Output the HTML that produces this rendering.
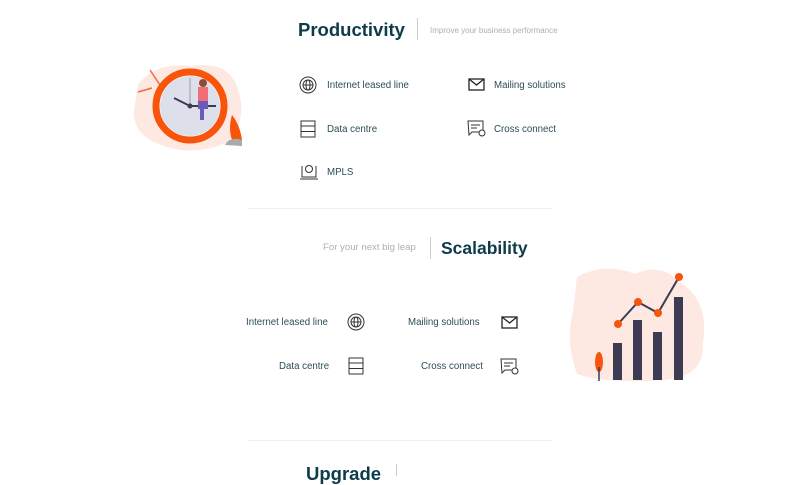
<!DOCTYPE html>
<html><head><style>
body{margin:0;width:800px;height:474px;background:#fff;position:relative;overflow:hidden;font-family:"Liberation Sans",sans-serif;}
.a{position:absolute;white-space:nowrap}
.t{font-weight:bold;font-size:18.5px;color:#0d3b4a}
.s{font-size:8px;color:#a9b0b4}
.i{font-size:9.7px;color:#2c4d58}
.d{position:absolute;width:1px;background:#c9cdd0}
.h{position:absolute;height:1px;background:#eef0f1;left:247px;width:306px}
svg.ic{position:absolute}
</style></head><body>
<div class="a t" style="left:298px;top:19px">Productivity</div>
<div class="d" style="left:417px;top:18px;height:22px"></div>
<div class="a s" style="left:430px;top:26px">Improve your business performance</div>

<svg class="a" style="left:130px;top:60px" width="120" height="95" viewBox="0 0 120 95">
<path d="M8 25 Q25 2 60 6 Q100 0 108 30 Q118 60 98 82 Q70 95 40 88 Q2 78 4 50 Z" fill="#fde9e2"/>
<line x1="20" y1="10" x2="30" y2="25" stroke="#f26b3a" stroke-width="1.5"/>
<line x1="8" y1="32" x2="22" y2="28" stroke="#f26b3a" stroke-width="1.5"/>
<circle cx="60" cy="46" r="34" fill="#fff" stroke="#f9540c" stroke-width="7"/>
<circle cx="60" cy="46" r="30" fill="#dde0ea"/>
<line x1="60" y1="46" x2="44" y2="38" stroke="#3d3b54" stroke-width="2"/>
<line x1="60" y1="46" x2="60" y2="18" stroke="#9a9aa8" stroke-width="1"/>
<line x1="60" y1="46" x2="86" y2="46" stroke="#3d3b54" stroke-width="2"/>
<circle cx="60" cy="46" r="2.5" fill="#3d3b54"/>
<rect x="68" y="27" width="10" height="14" fill="#f36d77"/>
<circle cx="73" cy="23" r="4" fill="#8a4b3a"/>
<rect x="68" y="41" width="10" height="8" fill="#6c5ab8"/>
<rect x="70" y="48" width="4" height="12" fill="#6c5ab8"/>
<path d="M102 55 Q110 65 112 80 L102 80 Q98 68 102 55Z" fill="#f9540c"/>
<path d="M95 85 Q100 76 112 80 L112 86 Z" fill="#aaa"/>
</svg>

<svg class="ic" style="left:299px;top:76px" width="18" height="18" viewBox="0 0 18 18" fill="none" stroke="#333" stroke-width="1"><circle cx="9" cy="9" r="8"/><circle cx="9" cy="9" r="5"/><ellipse cx="9" cy="9" rx="2" ry="5"/><line x1="4" y1="9" x2="14" y2="9"/></svg>
<div class="a i" style="left:327px;top:80px">Internet leased line</div>
<svg class="ic" style="left:468px;top:78px" width="17" height="14" viewBox="0 0 17 14" fill="none" stroke="#222" stroke-width="1.3"><rect x="1" y="1" width="15" height="11"/><path d="M1 1 L8.5 7 L16 1"/></svg>
<div class="a i" style="left:494px;top:80px">Mailing solutions</div>
<svg class="ic" style="left:300px;top:120px" width="16" height="18" viewBox="0 0 16 18" fill="none" stroke="#333" stroke-width="1"><rect x="1" y="1" width="14" height="16"/><line x1="1" y1="6" x2="15" y2="6"/><line x1="1" y1="11.5" x2="15" y2="11.5"/></svg>
<div class="a i" style="left:327px;top:124px">Data centre</div>
<svg class="ic" style="left:467px;top:120px" width="19" height="18" viewBox="0 0 19 18" fill="none" stroke="#333" stroke-width="1"><path d="M1 1 H16 V12 H5 L2 15 Z"/><line x1="4" y1="5" x2="13" y2="5"/><line x1="4" y1="8" x2="10" y2="8"/><circle cx="15" cy="13" r="3" fill="#fff"/></svg>
<div class="a i" style="left:494px;top:124px">Cross connect</div>
<svg class="ic" style="left:299px;top:163px" width="20" height="18" viewBox="0 0 20 18" fill="none" stroke="#333" stroke-width="1"><path d="M3 3 V14 H17 V3"/><line x1="1" y1="16" x2="19" y2="16"/><circle cx="10" cy="6" r="3.5"/></svg>
<div class="a i" style="left:327px;top:167px">MPLS</div>

<div class="h" style="top:208px"></div>

<div class="a s" style="left:323px;top:242px;font-size:9.6px">For your next big leap</div>
<div class="d" style="left:430px;top:237px;height:22px"></div>
<div class="a t" style="left:441px;top:238px;font-size:17.5px">Scalability</div>

<svg class="a" style="left:565px;top:262px" width="145" height="125" viewBox="0 0 145 125">
<path d="M12 15 Q40 0 70 12 Q95 0 115 20 Q145 40 138 80 Q140 115 100 118 Q40 122 12 112 Q0 80 8 50 Z" fill="#fde9e2"/>
<rect x="48" y="81" width="9" height="37" fill="#3d3b54"/>
<rect x="68" y="58" width="9" height="60" fill="#3d3b54"/>
<rect x="88" y="70" width="9" height="48" fill="#3d3b54"/>
<rect x="109" y="35" width="9" height="83" fill="#3d3b54"/>
<polyline points="53,62 73,40 93,51 114,15" fill="none" stroke="#3d3b54" stroke-width="2"/>
<circle cx="53" cy="62" r="4" fill="#f9540c"/><circle cx="73" cy="40" r="4" fill="#f9540c"/><circle cx="93" cy="51" r="4" fill="#f9540c"/><circle cx="114" cy="15" r="4" fill="#f9540c"/>
<ellipse cx="34" cy="100" rx="4" ry="10" fill="#f9540c"/><line x1="34" y1="105" x2="34" y2="119" stroke="#3d3b54" stroke-width="1.5"/>
</svg>

<div class="a i" style="left:246px;top:317px">Internet leased line</div>
<svg class="ic" style="left:347px;top:313px" width="18" height="18" viewBox="0 0 18 18" fill="none" stroke="#333" stroke-width="1"><circle cx="9" cy="9" r="8"/><circle cx="9" cy="9" r="5"/><ellipse cx="9" cy="9" rx="2" ry="5"/><line x1="4" y1="9" x2="14" y2="9"/></svg>
<div class="a i" style="left:408px;top:317px">Mailing solutions</div>
<svg class="ic" style="left:501px;top:316px" width="17" height="14" viewBox="0 0 17 14" fill="none" stroke="#222" stroke-width="1.3"><rect x="1" y="1" width="15" height="11"/><path d="M1 1 L8.5 7 L16 1"/></svg>
<div class="a i" style="left:279px;top:361px">Data centre</div>
<svg class="ic" style="left:348px;top:357px" width="16" height="18" viewBox="0 0 16 18" fill="none" stroke="#333" stroke-width="1"><rect x="1" y="1" width="14" height="16"/><line x1="1" y1="6" x2="15" y2="6"/><line x1="1" y1="11.5" x2="15" y2="11.5"/></svg>
<div class="a i" style="left:421px;top:361px">Cross connect</div>
<svg class="ic" style="left:500px;top:358px" width="19" height="18" viewBox="0 0 19 18" fill="none" stroke="#333" stroke-width="1"><path d="M1 1 H16 V12 H5 L2 15 Z"/><line x1="4" y1="5" x2="13" y2="5"/><line x1="4" y1="8" x2="10" y2="8"/><circle cx="15" cy="13" r="3" fill="#fff"/></svg>

<div class="h" style="top:440px"></div>
<div class="a t" style="left:306px;top:463px">Upgrade</div>
<div class="d" style="left:396px;top:464px;height:12px"></div>
</body></html>
